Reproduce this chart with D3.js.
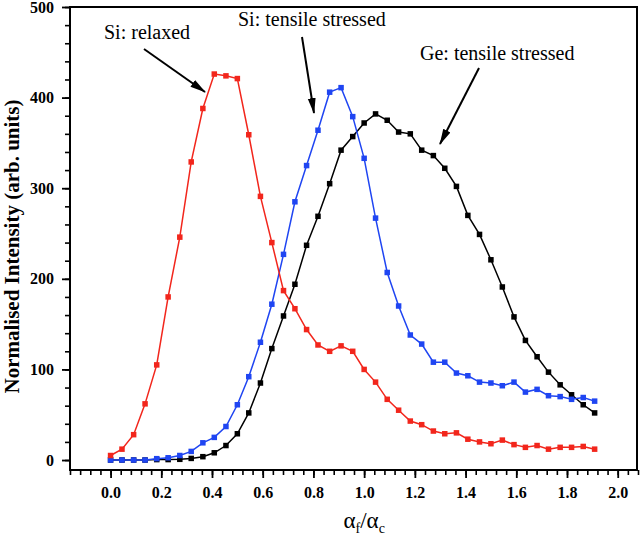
<!DOCTYPE html>
<html>
<head>
<meta charset="utf-8">
<script src="https://cdn.jsdelivr.net/npm/d3@7"></script>
<style>
  html, body { margin: 0; padding: 0; background: #fff; }
  svg { display: block; }
</style>
</head>
<body>
<div id="chart"></div>
<script>
// alpha_f / alpha_c sample positions
const alphaRatio = [0, 0.045, 0.091, 0.136, 0.182, 0.227, 0.273, 0.318, 0.364, 0.409,
  0.455, 0.500, 0.545, 0.591, 0.636, 0.682, 0.727, 0.773, 0.818, 0.864,
  0.909, 0.955, 1.000, 1.045, 1.091, 1.136, 1.182, 1.227, 1.273, 1.318,
  1.364, 1.409, 1.455, 1.500, 1.545, 1.591, 1.636, 1.682, 1.727, 1.773,
  1.818, 1.864, 1.909];

const siRelaxed = [5, 12, 28, 62, 105, 180, 246, 329, 388, 426,
  424, 421, 359, 291, 240, 187, 167, 144, 127, 120,
  126, 120, 100, 86, 67, 55, 43, 39, 32, 29,
  30, 23, 20, 18, 22, 17, 14, 16, 12, 14,
  14, 15, 12];

const siTensile = [0, 0, 0, 0, 1.5, 2.5, 5, 9.5, 19, 25,
  37, 61, 92, 130, 172, 227, 285, 325, 364, 406,
  411, 379, 333, 267, 207, 170, 138, 128, 108, 108,
  96, 93, 86, 85, 82, 86, 75, 78, 71, 70,
  67, 69, 65];

const geTensile = [0, 0, 0, 0, 0.5, 0.5, 0.8, 1.8, 3.7, 8,
  16, 29, 52, 85, 123, 159, 194, 237, 269, 305,
  342, 357, 372, 382, 375, 362, 360, 342, 336, 322,
  302, 270, 249, 221, 191, 158, 132, 114, 97, 83,
  72, 61, 52];

const xMajorTicks = [0, 0.2, 0.4, 0.6, 0.8, 1.0, 1.2, 1.4, 1.6, 1.8, 2.0];
const yMajorTicks = [0, 100, 200, 300, 400, 500];

const width = 640, height = 540;
const margin = { top: 7, right: 2, bottom: 70, left: 70 };
const serif = "'Liberation Serif', 'Times New Roman', serif";

const x = d3.scaleLinear().domain([-0.16, 2.08]).range([margin.left, width - margin.right]);
const y = d3.scaleLinear().domain([-11, 500]).range([height - margin.bottom, margin.top]);

const svg = d3.select('#chart').append('svg')
  .attr('width', width).attr('height', height)
  .attr('font-family', serif);

// arrow head
svg.append('defs').append('marker')
  .attr('id', 'arrow')
  .attr('viewBox', '0 0 16 10')
  .attr('refX', 15).attr('refY', 5)
  .attr('markerWidth', 16).attr('markerHeight', 10)
  .attr('markerUnits', 'userSpaceOnUse')
  .attr('orient', 'auto')
  .append('path').attr('d', 'M0,1 L16,5 L0,9 Z').attr('fill', '#000');

// minor ticks
const xMinor = d3.range(-16, 209, 4).map(d => d / 100);
const yMinor = d3.range(0, 501, 20);

svg.append('g')
  .attr('transform', `translate(0,${y(-11)})`)
  .call(d3.axisBottom(x).tickValues(xMinor).tickSize(5).tickFormat(''))
  .call(g => g.select('.domain').remove())
  .call(g => g.selectAll('line').attr('stroke-width', 1.6));

svg.append('g')
  .attr('transform', `translate(${x(-0.16)},0)`)
  .call(d3.axisLeft(y).tickValues(yMinor).tickSize(5).tickFormat(''))
  .call(g => g.select('.domain').remove())
  .call(g => g.selectAll('line').attr('stroke-width', 1.6));

// major ticks + labels
svg.append('g')
  .attr('transform', `translate(0,${y(-11)})`)
  .call(d3.axisBottom(x).tickValues(xMajorTicks).tickSize(8).tickPadding(9).tickFormat(d3.format('.1f')))
  .call(g => g.select('.domain').remove())
  .call(g => g.selectAll('line').attr('stroke-width', 1.8))
  .call(g => g.selectAll('text')
    .attr('font-family', serif).attr('font-size', 16).attr('font-weight', 'bold').attr('fill', '#000'));

svg.append('g')
  .attr('transform', `translate(${x(-0.16)},0)`)
  .call(d3.axisLeft(y).tickValues(yMajorTicks).tickSize(8).tickPadding(8))
  .call(g => g.select('.domain').remove())
  .call(g => g.selectAll('line').attr('stroke-width', 1.8))
  .call(g => g.selectAll('text')
    .attr('font-family', serif).attr('font-size', 16).attr('font-weight', 'bold').attr('fill', '#000'));

// frame
svg.append('rect')
  .attr('x', x(-0.16)).attr('y', y(500))
  .attr('width', x(2.08) - x(-0.16) - 1)
  .attr('height', y(-11) - y(500))
  .attr('fill', 'none').attr('stroke', '#000').attr('stroke-width', 2);

// series
const series = [
  { name: 'Ge: tensile stressed', values: geTensile, color: '#000000' },
  { name: 'Si: tensile stressed', values: siTensile, color: '#1f45f2' },
  { name: 'Si: relaxed', values: siRelaxed, color: '#f2261c' }
];

const line = d3.line().x(d => x(d[0])).y(d => y(d[1]));
const msize = 5.5;

series.forEach(s => {
  const pts = alphaRatio.map((a, i) => [a, s.values[i]]);
  const g = svg.append('g').attr('class', 'series');
  g.append('path').datum(pts)
    .attr('d', line)
    .attr('fill', 'none')
    .attr('stroke', s.color)
    .attr('stroke-width', 1.5);
  g.selectAll('rect').data(pts).join('rect')
    .attr('x', d => x(d[0]) - msize / 2)
    .attr('y', d => y(d[1]) - msize / 2)
    .attr('width', msize).attr('height', msize)
    .attr('fill', s.color);
});

// annotations
const notes = [
  { text: 'Si: relaxed', tx: 104, ty: 39, from: [144, 49], to: [205, 92] },
  { text: 'Si: tensile stressed', tx: 238, ty: 26, from: [302, 37], to: [314, 113] },
  { text: 'Ge: tensile stressed', tx: 420, ty: 60, from: [479, 68], to: [440, 144] }
];

notes.forEach(n => {
  svg.append('text')
    .attr('x', n.tx).attr('y', n.ty)
    .attr('font-size', 20)
    .attr('fill', '#000')
    .text(n.text);
  svg.append('line')
    .attr('x1', n.from[0]).attr('y1', n.from[1])
    .attr('x2', n.to[0]).attr('y2', n.to[1])
    .attr('stroke', '#000').attr('stroke-width', 2)
    .attr('marker-end', 'url(#arrow)');
});

// axis titles
svg.append('text')
  .attr('transform', `translate(19,${(y(500) + y(-11)) / 2 + 8}) rotate(-90)`)
  .attr('text-anchor', 'middle')
  .attr('font-size', 21).attr('font-weight', 'bold')
  .text('Normalised Intensity (arb. units)');

const xt = svg.append('text')
  .attr('x', x(1.0)).attr('y', 528)
  .attr('text-anchor', 'middle')
  .attr('font-size', 23);
xt.append('tspan').text('α');
xt.append('tspan').attr('font-size', 14).attr('dy', 5).text('f');
xt.append('tspan').attr('dy', -5).text('/α');
xt.append('tspan').attr('font-size', 14).attr('dy', 5).text('c');
</script>
</body>
</html>
